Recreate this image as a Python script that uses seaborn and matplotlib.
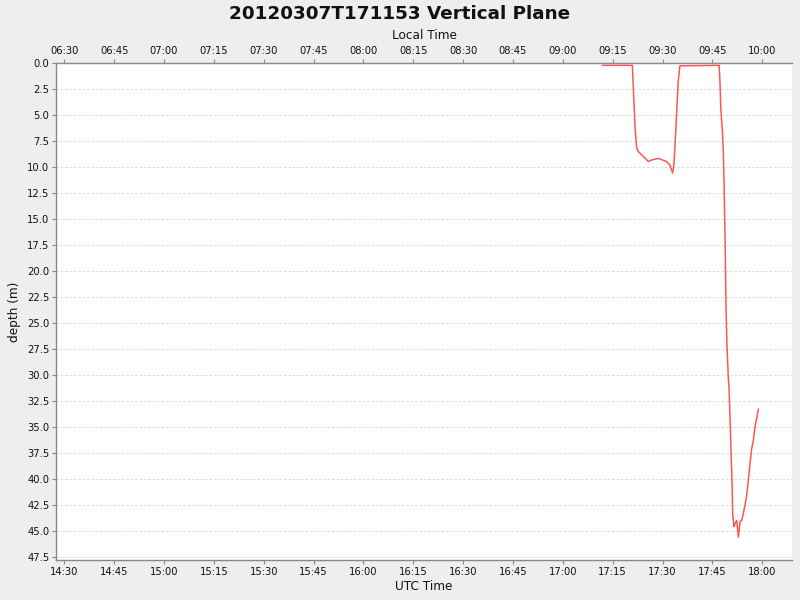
import matplotlib
matplotlib.use("Agg")
import matplotlib.pyplot as plt
import matplotlib.dates as mdates
import seaborn as sns
import pandas as pd

# ---- data (UTC time, depth in m) ----
utc_times = [
    "17:11:53", "17:20:54", "17:21:42", "17:22:12", "17:22:42", "17:24:12",
    "17:25:42", "17:26:42", "17:28:42", "17:31:12", "17:32:12", "17:33:00",
    "17:33:24", "17:34:00", "17:34:42", "17:35:12", "17:47:00", "17:47:18",
    "17:47:30", "17:48:00", "17:48:18", "17:48:30", "17:48:48", "17:49:06",
    "17:49:24", "17:49:48", "17:50:00", "17:50:18", "17:50:36", "17:50:54",
    "17:51:06", "17:51:30", "17:51:48", "17:52:18", "17:52:48", "17:53:18",
    "17:53:48", "17:54:18", "17:54:48", "17:55:18", "17:55:48", "17:56:18",
    "17:56:48", "17:57:18", "17:57:48", "17:58:18", "17:58:48",
]
depths = [
    0.25, 0.25, 6.15, 8.2, 8.55, 9.0, 9.5, 9.35, 9.2, 9.5, 9.85, 10.6,
    9.85, 6.3, 1.8, 0.3, 0.25, 2.1, 4.4, 6.6, 8.9, 11.8, 17.0, 24.0,
    27.5, 30.5, 31.3, 34.4, 37.4, 40.4, 43.5, 44.6, 44.3, 44.0, 45.6, 44.1,
    44.0, 43.3, 42.5, 41.6, 40.1, 38.5, 37.1, 36.3, 35.0, 34.2, 33.3,
]
date_str = "2012-03-07"
utc_offset_hours = -8
title = "20120307T171153 Vertical Plane"

df = pd.DataFrame({
    "time": pd.to_datetime([f"{date_str} {t}" for t in utc_times]),
    "depth": depths,
})

sns.set_theme(style="white")
plt.rcParams["font.family"] = ["DejaVu Sans"]

fig = plt.figure(figsize=(8, 6), dpi=100, facecolor="#EEEEEE")
ax = fig.add_axes([0.0704, 0.0667, 0.9192, 0.8288])
ax.set_facecolor("white")

sns.lineplot(data=df, x="time", y="depth", ax=ax, color="#FF5555",
             linewidth=1.1, sort=False, estimator=None)

x0 = pd.Timestamp(f"{date_str} 14:27:36")
x1 = pd.Timestamp(f"{date_str} 18:08:50")
ax.set_xlim(x0, x1)
ax.set_ylim(47.8, 0)

ax.yaxis.set_major_locator(plt.MultipleLocator(2.5))
ax.yaxis.set_major_formatter(plt.FormatStrFormatter("%.1f"))
ax.xaxis.set_major_locator(mdates.MinuteLocator(byminute=[0, 15, 30, 45]))
ax.xaxis.set_major_formatter(mdates.DateFormatter("%H:%M"))

ax.set_axisbelow(True)
ax.grid(axis="y", color="#DADADA", linestyle=(0, (2.5, 2)), linewidth=0.7)
ax.grid(axis="x", visible=False)

for s in ["left", "bottom", "top"]:
    ax.spines[s].set_color("#888888")
    ax.spines[s].set_linewidth(1.0)
    ax.spines[s].set_zorder(5)
ax.spines["right"].set_visible(False)

ax.tick_params(axis="both", direction="out", length=3, width=0.8,
               color="#888888", labelsize=7.2, labelcolor="#111111", pad=2)
ax.tick_params(axis="x", bottom=True)
ax.tick_params(axis="y", left=True)

ax.set_xlabel("UTC Time", fontsize=8.7, color="#111111", labelpad=2)
ax.set_ylabel("depth (m)", fontsize=8.7, color="#111111", labelpad=4)

off = utc_offset_hours / 24.0
sec = ax.secondary_xaxis("top", functions=(lambda x: x + off, lambda x: x - off))
sec.xaxis.set_major_locator(mdates.MinuteLocator(byminute=[0, 15, 30, 45]))
sec.xaxis.set_major_formatter(mdates.DateFormatter("%H:%M"))
sec.tick_params(axis="x", direction="out", length=3, width=0.8,
                color="#888888", labelsize=7.2, labelcolor="#111111", pad=2)
sec.spines["top"].set_visible(False)
sec.set_xlabel("Local Time", fontsize=8.7, color="#111111", labelpad=5)

fig.text(0.5, 0.992, title, ha="center", va="top", fontsize=13.2,
         fontweight="bold", color="#111111")

fig.savefig("out.png", dpi=100, facecolor=fig.get_facecolor())
